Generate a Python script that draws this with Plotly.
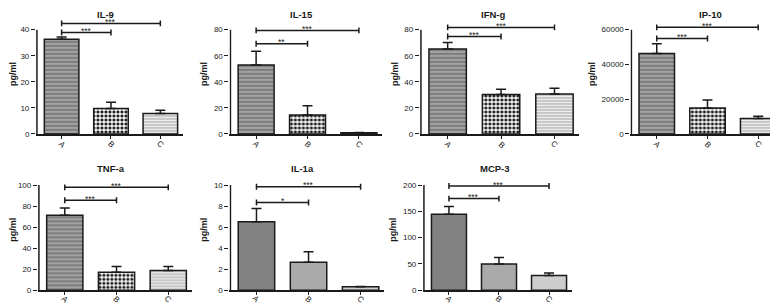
import plotly.graph_objects as go

# ---------------- data ----------------
categories = ["A", "B", "C"]
titles = ["IL-9", "IL-15", "IFN-g", "IP-10", "TNF-a", "IL-1a", "MCP-3"]

il9_mean = [36.3, 9.7, 7.8]
il9_err = [0.9, 2.4, 1.3]
il15_mean = [52.9, 14.5, 0.8]
il15_err = [10.5, 7.1, 0.2]
ifng_mean = [65.2, 30.3, 30.6]
ifng_err = [5.0, 4.0, 4.5]
ip10_mean = [46270, 14860, 8840]
ip10_err = [5630, 4700, 1320]
tnfa_mean = [71.3, 17.2, 18.8]
tnfa_err = [6.9, 5.3, 3.8]
il1a_mean = [6.5, 2.66, 0.34]
il1a_err = [1.28, 1.0, 0.03]
mcp3_mean = [144.7, 49.7, 28.3]
mcp3_err = [14.4, 12.6, 4.4]

means = [il9_mean, il15_mean, ifng_mean, ip10_mean, tnfa_mean, il1a_mean, mcp3_mean]
errs = [il9_err, il15_err, ifng_err, ip10_err, tnfa_err, il1a_err, mcp3_err]

ab_bracket = [38.9, 69.2, 74.7, 54920, 85.6, 8.34, 174.2]
ac_bracket = [42.4, 79.4, 81.7, 61320, 97.8, 9.84, 198.1]
ab_stars = ["***", "**", "***", "***", "***", "*", "***"]
ac_stars = ["***", "***", "***", "***", "***", "***", "***"]

ytick_max = [40, 80, 80, 60000, 100, 10, 200]
ytick_step = [10, 20, 20, 20000, 20, 2, 50]

# ---------------- layout (pixels) ----------------
W, H = 778, 304
x_px = [(27, 173), (221, 373), (412, 570), (623, 773), (29, 182), (221, 375), (415, 563)]
y_zero_px = [128, 128, 128, 128, 287, 287, 287]
y_tick_px = [22, 22, 22, 22, 180, 180, 180]
y_top_px = [6, 6, 6, 6, 164, 164, 164]
title_top_px = [0, 0, 0, 0, 157, 157, 157]
title_dx = [-4, -4, -6, 5, -4, -4, -2]
xlabel_shift = [-11, -11, -11, -11, -9, -9, -9]

X_MIN, X_LINE, X_MAX = -0.52, -0.5, 2.45

# bar styles: (background, pattern shape, pattern colour, size, solidity)
style_std = [("#7e7e7e", "-", "#b2b2b2", 4, 0.35),
             ("#ffffff", ".", "#1a1a1a", 4, 0.5),
             ("#c6c6c6", "-", "#f0f0f0", 3, 0.35)]
style_alt = [("#7a7a7a", ".", "#8e8e8e", 2, 0.4),
             ("#a2a2a2", ".", "#b6b6b6", 2, 0.4),
             ("#cdcdcd", "", "#cdcdcd", 2, 0.3)]
styles = [style_std] * 5 + [style_alt] * 2

font_family = "Liberation Sans, Arial, sans-serif"
ink = "#1a1a1a"

fig = go.Figure()
annotations = []

for i in range(7):
    n = "" if i == 0 else str(i + 1)
    xa, ya = "x" + n, "y" + n
    x0, x1 = x_px[i]
    u = (x1 - x0) / (X_MAX - X_LINE)
    dom_x = [(x0 - (X_LINE - X_MIN) * u) / W, x1 / W]
    dom_y = [(H - y_zero_px[i]) / H, (H - y_top_px[i]) / H]
    yr_max = ytick_max[i] * (y_zero_px[i] - y_top_px[i]) / (y_zero_px[i] - y_tick_px[i])
    px_unit = yr_max / (y_zero_px[i] - y_top_px[i])

    for k in range(3):
        bg, shp, fg, sz, sol = styles[i][k]
        fig.add_trace(go.Bar(
            x=[k], y=[means[i][k]], width=0.7,
            xaxis=xa, yaxis=ya,
            marker=dict(
                color=bg,
                line=dict(color=ink, width=1.5),
                pattern=dict(shape=shp, bgcolor=bg, fgcolor=fg, size=sz,
                             solidity=sol, fillmode="replace"),
            ),
            error_y=dict(type="data", symmetric=False, array=[errs[i][k]],
                         arrayminus=[0], color=ink, thickness=1.5, width=5),
            hoverinfo="skip",
        ))
        annotations.append(dict(
            x=k, y=0, xref=xa, yref=ya, text=categories[k], showarrow=False,
            textangle=45, yanchor="middle", yshift=xlabel_shift[i],
            font=dict(family=font_family, size=8, color=ink)))

    # y axis line from 0 to top tick
    fig.add_trace(go.Scatter(
        x=[X_LINE, X_LINE], y=[0, ytick_max[i]], mode="lines",
        line=dict(color=ink, width=1.5),
        xaxis=xa, yaxis=ya, hoverinfo="skip", cliponaxis=False))

    # significance brackets
    h = 3 * px_unit
    bx, by = [], []
    for (xe, yb) in [(1, ab_bracket[i]), (2, ac_bracket[i])]:
        bx += [0, 0, None, 0, xe, None, xe, xe, None]
        by += [yb - h, yb + h, None, yb, yb, None, yb - h, yb + h, None]
    fig.add_trace(go.Scatter(
        x=bx, y=by, mode="lines", line=dict(color=ink, width=1.5),
        xaxis=xa, yaxis=ya, hoverinfo="skip", cliponaxis=False))

    for xm, yb, s in [(0.5, ab_bracket[i], ab_stars[i]), (1.0, ac_bracket[i], ac_stars[i])]:
        annotations.append(dict(
            x=xm, y=yb, xref=xa, yref=ya, text=s, showarrow=False,
            yanchor="bottom", yshift=-4.5, borderpad=0,
            font=dict(family=font_family, size=8.5, color=ink)))

    annotations.append(dict(
        x=0.5, xref=xa + " domain", xshift=title_dx[i],
        y=(H - title_top_px[i]) / H, yref="paper",
        text="<b>" + titles[i] + "</b>", showarrow=False, yanchor="top",
        borderpad=0,
        font=dict(family=font_family, size=9.5, color=ink)))

    tv = list(range(0, ytick_max[i] + 1, ytick_step[i]))
    fig.layout["xaxis" + n] = dict(
        domain=dom_x, anchor=ya, range=[X_MIN, X_MAX],
        tickvals=[0, 1, 2], showticklabels=False,
        ticks="outside", ticklen=3, tickwidth=1.2, tickcolor=ink,
        showline=True, linecolor=ink, linewidth=1.5,
        showgrid=False, zeroline=False, fixedrange=True)
    fig.layout["yaxis" + n] = dict(
        domain=dom_y, anchor=xa, range=[0, yr_max],
        tickvals=tv, ticktext=[str(v) for v in tv],
        ticks="outside", ticklen=4, tickwidth=1.2, tickcolor=ink,
        showline=False, showgrid=False, zeroline=False, fixedrange=True,
        tickfont=dict(family=font_family, size=8, color=ink),
        title=dict(text="<b>pg/ml</b>", standoff=4,
                   font=dict(family=font_family, size=9, color=ink)))

fig.update_layout(
    width=W, height=H, margin=dict(l=0, r=0, t=0, b=0),
    paper_bgcolor="white", plot_bgcolor="white",
    showlegend=False, barmode="overlay", annotations=annotations,
)

fig.write_html("out.html")
